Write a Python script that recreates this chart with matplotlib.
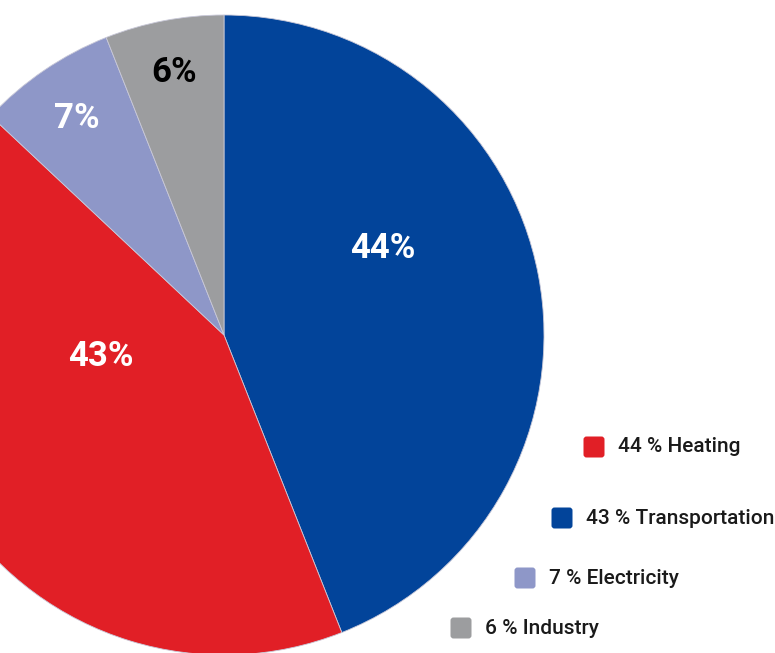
import matplotlib.pyplot as plt
from matplotlib.patches import FancyBboxPatch

# slice values, clockwise from 12 o'clock
shares = [44, 43, 7, 6]
slice_labels = ['44%', '43%', '7%', '6%']
label_colors = ['white', 'white', 'white', 'black']
colors = ['#02449A', '#E11F26', '#8E97C8', '#9C9D9F']

# legend entries (text as printed)
legend_text = ['44 % Heating', '43 % Transportation', '7 % Electricity', '6 % Industry']
legend_colors = ['#E11F26', '#02449A', '#8E97C8', '#9C9D9F']

W, H = 775, 653
fig = plt.figure(figsize=(W / 100, H / 100), dpi=100)
ax = fig.add_axes([0, 0, 1, 1])

cx, cy, r = 224, H - 335, 320
wedges, texts = ax.pie(shares, colors=colors, startangle=90, counterclock=False,
                       center=(cx, cy), radius=r,
                       wedgeprops=dict(linewidth=0.6, edgecolor='#c8c8d8'))

ax.set_xlim(0, W)
ax.set_ylim(0, H)
ax.set_aspect('equal')
ax.axis('off')

# percentage labels inside slices
label_pos = [(383, 248), (101, 356), (77, 118), (174, 72)]
for (x, y), txt, c in zip(label_pos, slice_labels, label_colors):
    ax.text(x, H - y, txt, color=c, fontsize=25, fontweight='bold',
            family='Roboto', ha='center', va='center')

# staggered legend with rounded swatches
legend_pos = [(594, 447), (562, 518), (525, 578), (461, 628)]
for (x, y), txt, c in zip(legend_pos, legend_text, legend_colors):
    s = 21
    box = FancyBboxPatch((x - s / 2 + 3, H - y - s / 2 + 3), s - 6, s - 6,
                         boxstyle='round,pad=3', facecolor=c, edgecolor='none')
    ax.add_patch(box)
    ax.text(x + 24, H - y, txt, fontsize=15, family='Roboto', fontweight='medium',
            color='#1a1a1a', ha='left', va='center')

fig.savefig('out.png', dpi=100)
